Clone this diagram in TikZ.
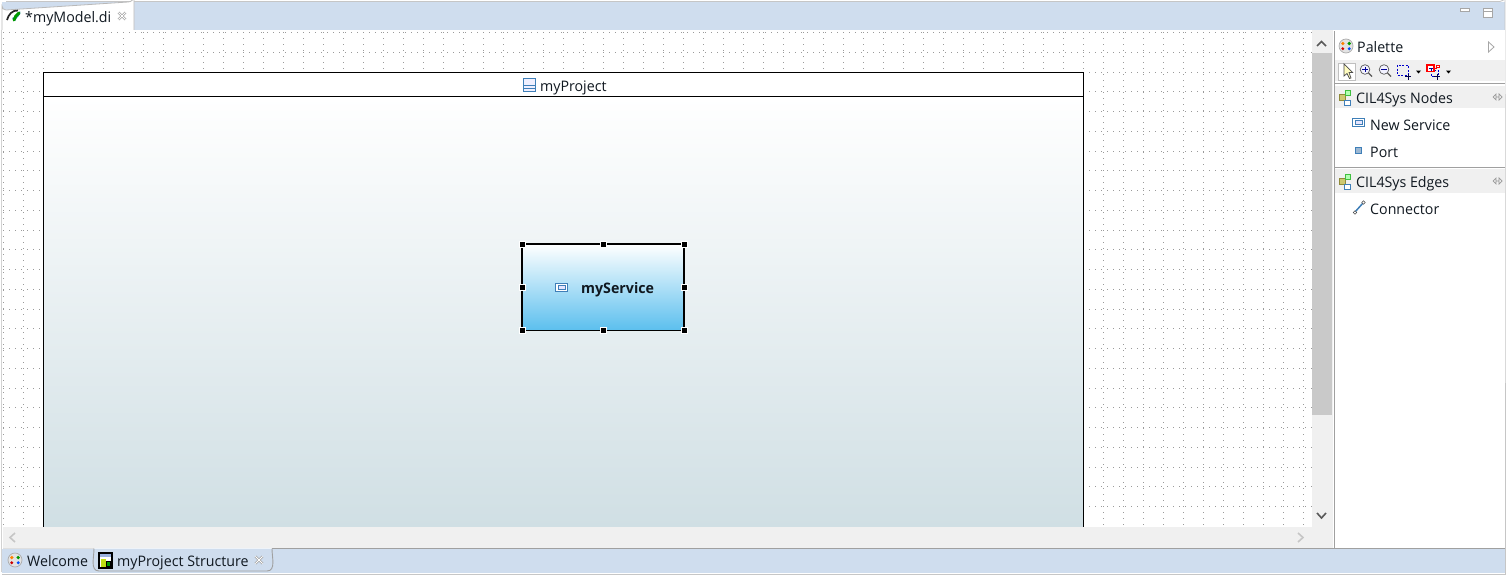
\documentclass[tikz,border=0pt]{standalone}
\usepackage{fontspec}
\setmainfont[FakeStretch=0.98]{Open Sans}
\definecolor{barblue}{HTML}{CFDDEE}
\definecolor{panelgrey}{HTML}{F0F0F0}
\definecolor{thumbgrey}{HTML}{C9C9C9}
\definecolor{edgegrey}{HTML}{A0A0A0}
\definecolor{griddot}{HTML}{9A9A9A}
\definecolor{iconblue}{HTML}{3F7FB8}
\definecolor{portblue}{HTML}{9DB8D2}
\definecolor{inktext}{HTML}{101820}
\tikzset{
  x=1pt,y=-1pt,
  uitext/.style={inner sep=0pt,anchor=base west,text=inktext,font=\fontsize{14.5}{16}\selectfont},
  boldtext/.style={uitext,font=\fontsize{14.5}{16}\selectfont\bfseries},
  handle/.style={fill=black,draw=white,line width=0.7pt},
  iconline/.style={draw=iconblue,line width=0.9pt},
  chev/.style={line width=1.6pt,line join=miter},
  gridline/.style={griddot,line width=1pt,dash pattern=on 1pt off 5pt},
}
\newcommand{\closex}[2]{\draw[gray!75,line width=2.4pt] (#1-3.6,#2-3.6) -- (#1+3.6,#2+3.6) (#1-3.6,#2+3.6) -- (#1+3.6,#2-3.6);
  \draw[white,line width=1pt] (#1-3.6,#2-3.6) -- (#1+3.6,#2+3.6) (#1-3.6,#2+3.6) -- (#1+3.6,#2-3.6);}
\newcommand{\drawericon}[2]{%
  \fill[olive!45!white,draw=olive!60!gray,line width=0.6pt] (#1,#2+1) rectangle ++(6,6);
  \fill[green!30!white,draw=green!50!gray,line width=0.6pt] (#1+6,#2-3) rectangle ++(5,5);
  \draw[iconblue,line width=0.7pt,fill=white] (#1+5,#2+7) rectangle ++(6,5);
}
\newcommand{\collapse}[2]{%
  \draw[gray!80,line width=0.7pt] (#1,#2) -- (#1+3,#2-3) -- (#1+3,#2+3) -- cycle
    (#1+9,#2) -- (#1+6,#2-3) -- (#1+6,#2+3) -- cycle (#1+3,#2) -- (#1+6,#2);
}
\newcommand{\ballicon}[2]{%
  \fill[gray!22,draw=gray!65,line width=0.7pt] (#1,#2) circle (7);
  \fill[orange] (#1-3.2,#2-2.5) circle (1.8);
  \fill[green!60!black] (#1+3.2,#2-2.5) circle (1.8);
  \fill[red!80!black] (#1-3.2,#2+2.7) circle (1.6);
  \fill[blue!70!cyan] (#1+3.2,#2+2.7) circle (1.6);
}
\begin{document}
\begin{tikzpicture}
\useasboundingbox (0,0) rectangle (1508,576);
\fill[white] (0,0) rectangle (1508,576);
% window chrome
\fill[barblue] (2,2) rectangle (1505,30);
\draw[gray!45,line width=0.8pt] (6,1.5) -- (1500,1.5) arc[start angle=90,end angle=0,radius=5] -- (1505.5,574.5) -- (2,574.5);
\draw[gray!35,line width=0.8pt] (1,30) -- (1,572);
% top tab
\fill[white] (2,30.5) -- (2,6) arc[start angle=180,end angle=90,radius=4] -- (128,2) arc[start angle=90,end angle=0,radius=6] -- (134,30.5) -- cycle;
\draw[gray!55,line width=0.8pt] (2,30) -- (2,6) arc[start angle=180,end angle=90,radius=4] -- (128,2) arc[start angle=90,end angle=0,radius=6] -- (134,30);
\fill[white] (2,30) rectangle (1334,527);
% canvas grid
\begin{scope}
\clip (3,30) rectangle (1312,527);
\foreach \r in {0,...,24}{
  \draw[gridline] (3,{32.5+19.75*\r}) -- (1312,{32.5+19.75*\r});
}
\foreach \c in {0,...,65}{
  \draw[gridline] ({3.5+20*\c},32) -- ({3.5+20*\c},527);
}
\end{scope}
% project container
\shade[top color=white,bottom color={rgb,255:red,208;green,223;blue,228}] (44,97) rectangle (1083,527);
\fill[white] (44,73) rectangle (1083,96);
\draw[black,line width=1.1pt] (43.5,527) -- (43.5,72.5) -- (1083.5,72.5) -- (1083.5,527);
\draw[black,line width=1.1pt] (43.5,96.5) -- (1083.5,96.5);
\node[uitext] (projecttitle) at (540,91) {myProject};
\draw[iconline,fill=blue!6] (523.5,78.5) rectangle (535.5,91.5);
\draw[iconline] (523.5,85.5) -- (535.5,85.5) (523.5,88.5) -- (535.5,88.5);
% service
\shade[top color=white,bottom color={rgb,255:red,91;green,191;blue,238}] (522,244) rectangle (684,330.5);
\draw[black,line width=1.8pt] (522,244) rectangle (684,330.5);
\node[boldtext] (servicetitle) at (581,293) {myService};
\draw[iconline,fill=white] (555.5,283.5) rectangle (567.5,291.5);
\draw[iconblue,line width=0.6pt,fill=blue!10] (558,285.7) rectangle (565,289.3);
\foreach \hx/\hy in {522/244,603/244,684/244,522/287,684/287,522/330.5,603/330.5,684/330.5}{
  \fill[handle] (\hx-3,\hy-3) rectangle ++(6,6);
}
% vertical scrollbar
\fill[panelgrey] (1312,30) rectangle (1333,527);
\fill[thumbgrey] (1312,53) rectangle (1332,415);
\draw[black!65,chev] (1317,46) -- (1321.5,41.5) -- (1326,46);
\draw[black!65,chev] (1317,513) -- (1321.5,518) -- (1326,513);
% horizontal scrollbar
\fill[panelgrey] (3,527) rectangle (1333,548);
\draw[gray!45,chev] (15,533) -- (10,537.5) -- (15,542);
\draw[gray!45,chev] (1298,533) -- (1303,537.5) -- (1298,542);
% palette
\draw[edgegrey,line width=1pt] (1334,31) -- (1334,548);
\fill[white] (1335,30) rectangle (1505,548);
\ballicon{1346}{46}
\node[uitext] (palettetitle) at (1357,52) {Palette};
\draw[gray!70,line width=0.8pt,fill=white] (1488.5,42) -- (1494,47) -- (1488.5,52) -- cycle;
% palette toolbar
\fill[panelgrey] (1335,60) rectangle (1505,81);
\draw[edgegrey,line width=0.8pt] (1335,83.5) -- (1505,83.5);
\draw[gray!50,line width=0.7pt,fill=white] (1338,63) rectangle (1355,80);
\draw[black!70,fill=yellow!25,line width=0.7pt] (1344,64) -- (1344,76) -- (1347,73.5) -- (1349.5,78.5) -- (1351,78) -- (1349,72.5) -- (1352.5,72.5) -- cycle;
% zoom in
\draw[gray!70!black,line width=1.3pt] (1368.5,73) -- (1372,76.5);
\draw[gray!70!black,fill=blue!5,line width=0.7pt] (1365,69.5) circle (4.8);
\draw[blue!60!black,line width=1pt] (1362.3,69.5) -- (1367.7,69.5) (1365,66.8) -- (1365,72.2);
% zoom out
\draw[gray!70!black,line width=1.3pt] (1387.5,73) -- (1391,76.5);
\draw[gray!70!black,fill=blue!5,line width=0.7pt] (1384,69.5) circle (4.8);
\draw[blue!60!black,line width=1pt] (1381.3,69.5) -- (1386.7,69.5);
% marquee
\draw[blue!80!black,dash pattern=on 2pt off 1.5pt,line width=0.9pt] (1397,65) rectangle (1408,75);
\draw[black!70!blue,line width=0.9pt] (1405,76.5) -- (1411,76.5) (1408,73.5) -- (1408,79.5);
\fill[black] (1416,70.5) -- (1421,70.5) -- (1418.5,73.5) -- cycle;
% connection marquee
\draw[blue!80!black,dash pattern=on 2pt off 1.5pt,line width=0.9pt] (1431,70) rectangle (1438,76);
\draw[red,line width=1.1pt,fill=white] (1427,65) rectangle (1434,71.5);
\draw[red,line width=0.9pt] (1433,68.5) -- (1437,68.5);
\draw[red,line width=0.9pt,fill=white] (1436.5,65) rectangle (1439,67.5);
\draw[blue!60!black,line width=0.8pt] (1429,68) -- (1433,68) (1431,68) -- (1431,71);
\draw[black!70!blue,line width=0.9pt] (1434,76.5) -- (1440,76.5) (1437,73.5) -- (1437,79.5);
\fill[black] (1446,70.5) -- (1451,70.5) -- (1448.5,73.5) -- cycle;
% nodes drawer
\fill[panelgrey] (1335,86) rectangle (1505,108);
\drawericon{1339}{93}
\node[uitext] (nodesheader) at (1356,103) {CIL4Sys Nodes};
\collapse{1493}{97}
\draw[iconline,fill=white] (1352.5,118.5) rectangle (1364.5,126.5);
\draw[iconblue,line width=0.6pt,fill=blue!10] (1355,120.7) rectangle (1362,124.3);
\node[uitext] (newservice) at (1370,130) {New Service};
\draw[iconblue,line width=0.7pt,fill=portblue] (1355.5,147) rectangle (1361.5,153);
\node[uitext] (port) at (1370,157) {Port};
\draw[edgegrey,line width=0.8pt] (1335,167.5) -- (1505,167.5);
% edges drawer
\fill[panelgrey] (1335,169) rectangle (1505,193);
\drawericon{1339}{177}
\node[uitext] (edgesheader) at (1356,187) {CIL4Sys Edges};
\collapse{1493}{181}
\draw[iconblue,line width=1.5pt] (1355,212) -- (1363,203);
\draw[black!70,line width=0.6pt,fill=white] (1355,212.5) circle (1.7) (1363.5,202.5) circle (1.7);
\node[uitext] (connector) at (1370,214) {Connector};
% bottom bar
\fill[barblue] (2,548.5) rectangle (1505,573);
\draw[edgegrey,line width=0.9pt] (272,548.5) -- (1505,548.5);
\draw[gray!25,line width=0.9pt] (3,548.5) -- (94,548.5);
\draw[edgegrey,line width=0.9pt,fill=barblue] (94,548.5) to[out=-90,in=180] (99,571) -- (267,571) to[out=0,in=-90] (272,548.5);
\ballicon{15}{560}
\node[uitext] (welcometab) at (27,566) {Welcome};
% structure tab
\draw[black,fill=cyan!45!blue!40,line width=1.2pt] (99,553) rectangle (112,568);
\fill[white] (100,557) rectangle (111,567);
\fill[yellow!75!green] (101,558.5) rectangle (105.5,566.5);
\draw[black,fill=green!60!black,line width=0.5pt] (106,561) rectangle (110.5,566.5);
\node[uitext] (structuretab) at (117,566) {myProject Structure};
\closex{259}{560}
% top tab contents
\fill[cyan!60!blue!70] (15,21) to[out=70,in=-60] (20,11) to[out=-110,in=20] (12,18) -- cycle;
\draw[green!60!black,line width=3pt,line cap=round] (14,20) to[out=75,in=220] (19,13);
\draw[black!85,line width=1.7pt] (7,20) to[out=75,in=175] (18,10.5);
\node[uitext] (modeltab) at (25,22) {*myModel.di};
\closex{122}{16}
% window buttons
\draw[gray!70,line width=0.8pt,fill=white] (1460.5,8.5) rectangle (1469.5,11.5);
\draw[gray!70,line width=0.8pt,fill=white] (1483.5,8.5) rectangle (1492.5,17.5);
\draw[gray!70,line width=0.8pt] (1483.5,11) -- (1492.5,11);
\end{tikzpicture}
\end{document}
